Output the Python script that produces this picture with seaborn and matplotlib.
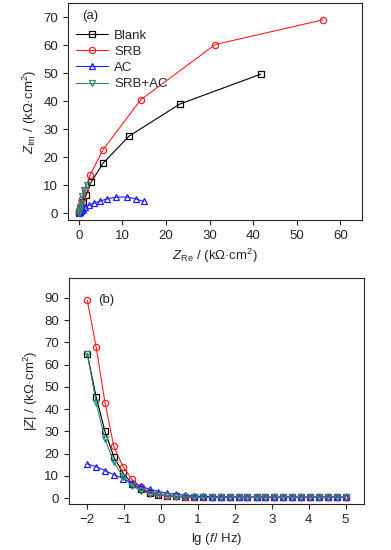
import numpy as np
import pandas as pd
import matplotlib
matplotlib.use('Agg')
import matplotlib.pyplot as plt
import seaborn as sns

# Nyquist (a): Z_Re, Z_Im in kOhm cm2, from low to high frequency
blank_re = [41.7, 23.2, 11.5, 5.5, 2.8, 1.7, 0.9, 0.5, 0.3, 0.18, 0.1, 0.06]
blank_im = [49.6, 39.0, 27.5, 17.8, 11.1, 6.6, 4.0, 2.4, 1.5, 0.9, 0.5, 0.3]
srb_re = [56.0, 31.3, 14.2, 5.5, 2.6, 1.3, 0.7, 0.4, 0.25, 0.15, 0.1, 0.06]
srb_im = [69.0, 60.2, 40.5, 22.6, 13.7, 8.2, 5.0, 3.0, 1.9, 1.1, 0.6, 0.3]
ac_re = [14.9, 13.1, 11.0, 8.6, 6.4, 4.8, 3.4, 2.3, 1.5, 0.9, 0.6, 0.4, 0.25, 0.15, 0.1]
ac_im = [4.2, 5.1, 5.8, 5.8, 5.1, 4.3, 3.6, 2.8, 2.2, 1.6, 1.1, 0.8, 0.5, 0.3, 0.15]
srbac_re = [1.8, 1.2, 0.8, 0.5, 0.3, 0.2, 0.1, 0.05]
srbac_im = [10.1, 8.3, 6.0, 3.6, 2.2, 1.3, 0.6, 0.2]

# Bode (b): lg f and |Z|
lgf = [-2.00, -1.76, -1.52, -1.28, -1.03, -0.79, -0.55, -0.31, -0.07, 0.17,
       0.41, 0.66, 0.90, 1.14, 1.38, 1.62, 1.86, 2.10, 2.34, 2.59,
       2.83, 3.07, 3.31, 3.55, 3.79, 4.03, 4.28, 4.52, 4.76, 5.00]
blank_z = [65.0, 45.5, 30.0, 18.6, 11.3, 6.6, 4.0, 2.5, 1.6, 1.1,
           0.8, 0.65, 0.55, 0.5, 0.45, 0.42, 0.4, 0.4, 0.4, 0.4,
           0.4, 0.4, 0.4, 0.4, 0.4, 0.4, 0.4, 0.4, 0.4, 0.4]
srb_z = [89.0, 68.0, 43.0, 23.3, 14.2, 8.5, 5.0, 3.0, 1.9, 1.2,
         0.85, 0.65, 0.55, 0.5, 0.45, 0.42, 0.4, 0.4, 0.4, 0.4,
         0.4, 0.4, 0.4, 0.4, 0.4, 0.4, 0.4, 0.4, 0.4, 0.4]
ac_z = [15.4, 14.2, 12.4, 10.6, 8.8, 7.0, 5.4, 4.0, 3.0, 2.2,
        1.7, 1.3, 1.0, 0.8, 0.7, 0.6, 0.55, 0.5, 0.5, 0.5,
        0.5, 0.5, 0.5, 0.5, 0.5, 0.5, 0.5, 0.5, 0.5, 0.5]
srbac_z = [65.0, 43.0, 26.5, 16.3, 9.7, 5.6, 3.4, 2.1, 1.4, 1.0,
           0.75, 0.6, 0.5, 0.45, 0.42, 0.4, 0.4, 0.4, 0.4, 0.4,
           0.4, 0.4, 0.4, 0.4, 0.4, 0.4, 0.4, 0.4, 0.4, 0.4]

names = ['Blank', 'SRB', 'AC', 'SRB+AC']
colors = ['black', '#ff2020', '#2020ff', '#2f8578']
markers = ['s', 'o', '^', 'v']

sns.set_style('ticks')
plt.rcParams['font.family'] = ['Liberation Sans', 'DejaVu Sans']
plt.rcParams['mathtext.fontset'] = 'custom'
plt.rcParams['mathtext.rm'] = 'Liberation Sans'
plt.rcParams['mathtext.it'] = 'Liberation Sans:italic'
plt.rcParams['font.size'] = 9
plt.rcParams['xtick.direction'] = 'out'
plt.rcParams['ytick.direction'] = 'out'

fig = plt.figure(figsize=(3.91, 5.5), dpi=100)
ax1 = fig.add_axes([0.174, 0.6, 0.752, 0.3945])
ax2 = fig.add_axes([0.176, 0.0836, 0.755, 0.411])

nyq = [(blank_re, blank_im), (srb_re, srb_im), (ac_re, ac_im), (srbac_re, srbac_im)]
bode = [blank_z, srb_z, ac_z, srbac_z]

for (xr, yi), zz, name, c, m in zip(nyq, bode, names, colors, markers):
    kw = dict(color=c, marker=m, markersize=4.5, markerfacecolor='none',
              markeredgecolor=c, markeredgewidth=0.9, linewidth=0.8,
              sort=False, estimator=None)
    sns.lineplot(x=xr, y=yi, ax=ax1, label=name, **kw)
    sns.lineplot(x=lgf, y=zz, ax=ax2, **kw)

ax1.set_xlim(-2.5, 65)
ax1.set_ylim(-2.4, 75)
ax1.set_xticks(range(0, 61, 10))
ax1.set_yticks(range(0, 71, 10))
ax1.set_xlabel(r'$Z_{\rm Re}$ / (kΩ·cm$^2$)', fontsize=9.5, labelpad=4)
ax1.set_ylabel(r'$Z_{\rm Im}$ / (kΩ·cm$^2$)', fontsize=9.5, labelpad=3)
ax1.text(0.048, 0.94, '(a)', transform=ax1.transAxes, fontsize=9.5, va='center')
ax1.legend(loc='upper left', bbox_to_anchor=(0.0, 0.915), frameon=False,
           fontsize=9.5, handlelength=2.4, handletextpad=0.5, labelspacing=0.3,
           borderaxespad=0.2)

ax2.set_xlim(-2.5, 5.5)
ax2.set_ylim(-2.6, 99)
ax2.set_xticks(range(-2, 6))
ax2.set_yticks(range(0, 91, 10))
ax2.set_xlabel(r'lg ($f$/ Hz)', fontsize=9.5, labelpad=4)
ax2.set_ylabel(r'|$Z$| / (kΩ·cm$^2$)', fontsize=9.5, labelpad=3)
ax2.text(0.098, 0.903, '(b)', transform=ax2.transAxes, fontsize=9.5, va='center')

for ax in (ax1, ax2):
    for s in ax.spines.values():
        s.set_visible(True)
        s.set_linewidth(0.8)
    ax.tick_params(length=3.5, width=0.8, labelsize=9.5, top=False, right=False)

fig.savefig('out.png', dpi=100)
